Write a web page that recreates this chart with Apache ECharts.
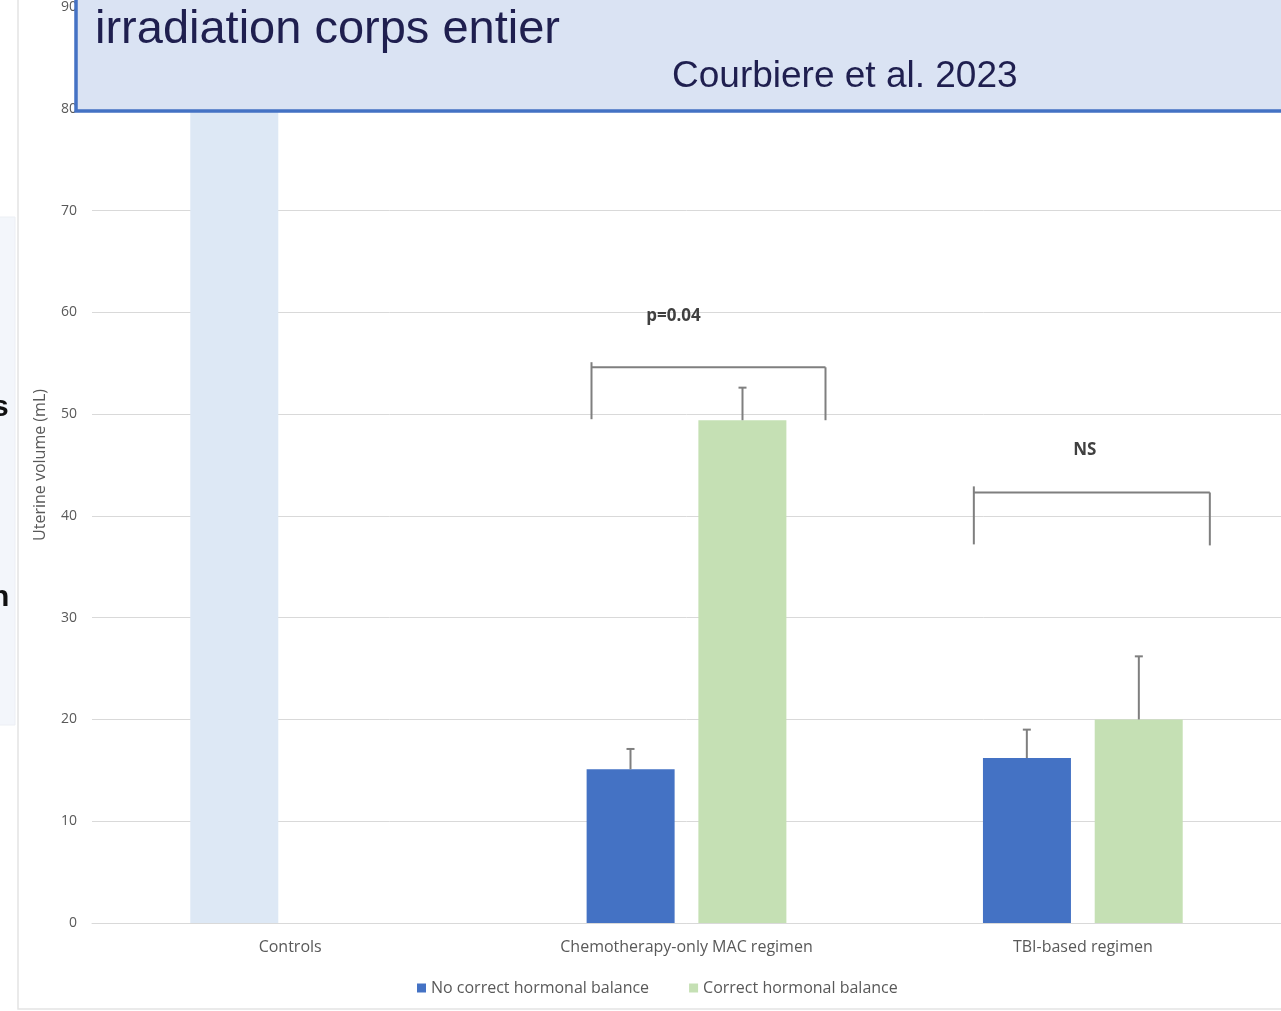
<!DOCTYPE html>
<html>
<head>
<meta charset="utf-8">
<script src="https://cdn.jsdelivr.net/npm/echarts@6/dist/echarts.min.js"></script>
<style>
html,body{margin:0;padding:0;background:#fff;}
#chart{width:1281px;height:1011px;}
</style>
</head>
<body>
<div id="chart"></div>
<script>
// ---- data ----
const categories = ['Controls', 'Chemotherapy-only MAC regimen', 'TBI-based regimen'];
const seriesNames = ['No correct hormonal balance', 'Correct hormonal balance'];
const noCorrectValues = [86, 15.1, 16.2];      // Controls bar shown in light blue (top hidden by title box)
const correctValues = [null, 49.4, 20.0];
const noCorrectErrTop = [null, 17.1, 19.0];
const correctErrTop = [null, 52.6, 26.2];
const yTicks = [0, 10, 20, 30, 40, 50, 60, 70, 80, 90];
// significance brackets: category, label, label height, bracket heights
const brackets = [
  { cat: 1, label: 'p=0.04', labelY: 59.6, top: 54.6, leftTop: 55.1, leftBottom: 49.5, rightBottom: 49.4 },
  { cat: 2, label: 'NS', labelY: 46.5, top: 42.3, leftTop: 42.9, leftBottom: 37.2, rightBottom: 37.1 }
];

const BLUE = '#4472c4', GREEN = '#c5e0b4', CONTROL = '#dde8f5', GREY = '#7f7f7f';
const BAR_W = 88, HALF_STEP = 56;
// pixel offsets from category centre: [left leg, right leg, label]
const bracketOffsets = { 1: [-95, 139, -13], 2: [-109, 127, 2] };

const chart = echarts.init(document.getElementById('chart'));

function errorRender(offset) {
  return function (params, api) {
    const i = api.value(0);
    const base = api.coord([i, api.value(1)]);
    const top = api.coord([i, api.value(2)]);
    const x = base[0] + offset;
    return {
      type: 'group',
      children: [
        { type: 'line', shape: { x1: x, y1: base[1], x2: x, y2: top[1] }, style: { stroke: GREY, lineWidth: 2 } },
        { type: 'line', shape: { x1: x - 4, y1: top[1], x2: x + 4, y2: top[1] }, style: { stroke: GREY, lineWidth: 2 } }
      ]
    };
  };
}

const errNoData = categories.map((c, i) => noCorrectErrTop[i] == null ? null : [i, noCorrectValues[i], noCorrectErrTop[i]]).filter(Boolean);
const errYesData = categories.map((c, i) => correctErrTop[i] == null ? null : [i, correctValues[i], correctErrTop[i]]).filter(Boolean);

const bracketData = brackets.map(b => [b.cat, b.top, b.leftTop, b.leftBottom, b.rightBottom, b.labelY]);

chart.setOption({
  animation: false,
  backgroundColor: '#ffffff',
  grid: { left: 92, right: 0, top: 7, bottom: 88, containLabel: false },
  xAxis: {
    type: 'category',
    data: categories,
    axisTick: { show: false },
    axisLine: { lineStyle: { color: '#d9d9d9', width: 1 } },
    axisLabel: { color: '#595959', fontFamily: 'Open Sans', fontSize: 16, margin: 16 }
  },
  yAxis: {
    type: 'value',
    min: yTicks[0], max: yTicks[yTicks.length - 1], interval: 10,
    name: 'Uterine volume (mL)',
    nameLocation: 'middle', nameGap: 44,
    nameTextStyle: { color: '#595959', fontFamily: 'Open Sans', fontSize: 16 },
    axisLabel: { color: '#595959', fontFamily: 'Open Sans', fontSize: 14, margin: 15 },
    axisLine: { show: false }, axisTick: { show: false },
    splitLine: { lineStyle: { color: '#d9d9d9', width: 1 } }
  },
  legend: {
    data: seriesNames,
    bottom: 10, left: 412,
    itemWidth: 9, itemHeight: 9, itemGap: 40,
    icon: 'rect',
    textStyle: { color: '#595959', fontFamily: 'Open Sans', fontSize: 16 }
  },
  series: [
    {
      name: seriesNames[0], type: 'bar', barWidth: BAR_W, barGap: '27%',
      itemStyle: { color: BLUE },
      data: noCorrectValues.map((v, i) => i === 0 ? { value: v, itemStyle: { color: CONTROL } } : v)
    },
    {
      name: seriesNames[1], type: 'bar', barWidth: BAR_W, barGap: '27%',
      itemStyle: { color: GREEN },
      data: correctValues
    },
    { type: 'custom', renderItem: errorRender(-HALF_STEP), data: errNoData, z: 5, silent: true },
    { type: 'custom', renderItem: errorRender(HALF_STEP), data: errYesData, z: 5, silent: true },
    {
      type: 'custom', z: 6, silent: true, data: bracketData,
      renderItem: function (params, api) {
        const b = brackets[params.dataIndex];
        const i = api.value(0);
        const c = api.coord([i, api.value(1)]);
        const off = bracketOffsets[b.cat];
        const xl = c[0] + off[0], xr = c[0] + off[1];
        const yTop = c[1];
        const yLT = api.coord([i, api.value(2)])[1];
        const yLB = api.coord([i, api.value(3)])[1];
        const yRB = api.coord([i, api.value(4)])[1];
        const yLab = api.coord([i, api.value(5)])[1];
        const st = { stroke: GREY, lineWidth: 2 };
        return {
          type: 'group',
          children: [
            { type: 'line', shape: { x1: xl, y1: yLT, x2: xl, y2: yLB }, style: st },
            { type: 'line', shape: { x1: xl, y1: yTop, x2: xr, y2: yTop }, style: st },
            { type: 'line', shape: { x1: xr, y1: yTop, x2: xr, y2: yRB }, style: st },
            { type: 'text', x: c[0] + off[2], y: yLab, style: { text: b.label, fill: '#404040', font: 'bold 17px "Open Sans"', textAlign: 'center', textVerticalAlign: 'middle' } }
          ]
        };
      }
    }
  ],
  graphic: [
    { type: 'rect', z: -10, shape: { x: 18, y: -5, width: 1300, height: 1014 }, style: { fill: 'rgba(0,0,0,0)', stroke: '#e4e4e4', lineWidth: 1.5 } },
    { type: 'rect', z: -10, shape: { x: -2, y: 217, width: 17, height: 508 }, style: { fill: '#f3f6fb', stroke: '#eceff4', lineWidth: 1 } },
    { type: 'text', z: 5, x: -8, y: 408, style: { text: 's', fill: '#111', font: 'bold 30px "Liberation Sans"', textVerticalAlign: 'middle' } },
    { type: 'text', z: 5, x: -9, y: 598, style: { text: 'n', fill: '#111', font: 'bold 30px "Liberation Sans"', textVerticalAlign: 'middle' } },
    { type: 'rect', z: 100, shape: { x: 76, y: -10, width: 1220, height: 121 }, style: { fill: '#dae3f3', stroke: '#4472c4', lineWidth: 3.5 } },
    { type: 'text', z: 101, x: 95, y: 30, style: { text: 'irradiation corps entier', fill: '#1f1f4f', font: '47px "Liberation Sans"', textVerticalAlign: 'middle' } },
    { type: 'text', z: 101, x: 672, y: 77, style: { text: 'Courbiere et al. 2023', fill: '#1f1f4f', font: '37px "Liberation Sans"', textVerticalAlign: 'middle' } }
  ]
});
</script>
</body>
</html>
